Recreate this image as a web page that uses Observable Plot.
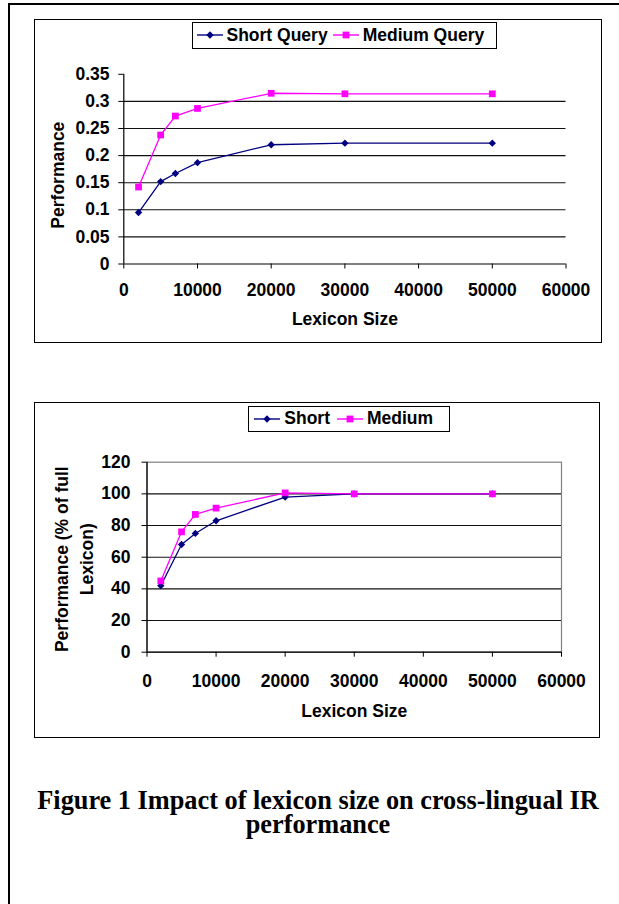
<!DOCTYPE html>
<html><head><meta charset="utf-8">
<script src="https://cdn.jsdelivr.net/npm/d3@7"></script>
<script src="https://cdn.jsdelivr.net/npm/@observablehq/plot@0.6"></script>
<style>
html,body{margin:0;padding:0;background:#fff;}
#page{position:relative;width:619px;height:904px;overflow:hidden;background:#fff;font-family:Arial,"Liberation Sans",sans-serif;color:#000;}
.pageborder{position:absolute;left:8px;top:3px;width:700px;height:1000px;border-left:2px solid #000;border-top:2px solid #000;}
.chart{position:absolute;left:0;}
.box{position:absolute;border:1.5px solid #000;box-sizing:border-box;pointer-events:none;}
.legend{position:absolute;border:1.3px solid #000;background:#fff;display:flex;align-items:center;box-sizing:border-box;font-weight:bold;font-size:17.5px;white-space:nowrap;}
.legend svg{display:block;flex:none;}
.caption{position:absolute;left:9px;width:618px;text-align:center;font-family:"Times New Roman","Liberation Serif",serif;font-weight:bold;font-size:26.3px;line-height:24px;}
</style></head>
<body><div id="page">
<div class="pageborder"></div>
<div id="c1" class="chart" style="top:18.5px"></div>
<div class="box" style="left:33.5px;top:18.5px;width:568px;height:324.5px"></div>
<div id="l1" class="legend" style="left:191.5px;top:22px;width:305px;height:26.5px;padding-left:4px"></div>
<div id="c2" class="chart" style="top:402px"></div>
<div class="box" style="left:33.5px;top:402px;width:566.5px;height:335.5px"></div>
<div id="l2" class="legend" style="left:248.3px;top:405.7px;width:202px;height:26.6px;padding-left:5px"></div>
<div class="caption" style="top:789px">Figure 1 Impact of lexicon size on cross-lingual IR performance</div>
</div>
<script>
// ---- data ----
const lexiconSizes = [2000, 5000, 7000, 10000, 20000, 30000, 50000];
const shortPerf  = [0.095, 0.152, 0.167, 0.187, 0.220, 0.223, 0.223];
const mediumPerf = [0.142, 0.238, 0.273, 0.287, 0.315, 0.314, 0.314];
const shortPct   = [42, 68, 75, 83, 98, 100, 100];
const mediumPct  = [45, 76, 87, 91, 100.6, 100, 100];
const xTicks  = [0, 10000, 20000, 30000, 40000, 50000, 60000];
const yTicks1 = [0, 0.05, 0.1, 0.15, 0.2, 0.25, 0.3, 0.35];
const yTicks2 = [0, 20, 40, 60, 80, 100, 120];
const legend1 = ["Short Query", "Medium Query"];
const legend2 = ["Short", "Medium"];
const xLabel = "Lexicon Size";
const yLabel1 = "Performance";
const yLabel2 = "Performance (% of full\nLexicon)";

const shortColor = "#000080";
const mediumColor = "#FF00FF";
const FONT = "Arial, 'Liberation Sans', sans-serif";

function makeChart(o) {
  const rs = lexiconSizes.map((x, i) => ({x, y: o.s1[i]}));
  const rm = lexiconSizes.map((x, i) => ({x, y: o.s2[i]}));
  const marks = [];
  if (o.frame) marks.push(Plot.frame({stroke: "#808080", strokeWidth: 1.2}));
  marks.push(Plot.ruleY(o.yTicks.filter(v => v > 0 && v < o.yDomain[1]), {stroke: "#111", strokeWidth: 1.1}));
  marks.push(Plot.ruleX([0], {stroke: "#000", strokeWidth: 1.2}));
  marks.push(Plot.ruleY([0], {stroke: "#000", strokeWidth: 1.2}));
  marks.push(Plot.axisY({ticks: o.yTicks, tickFormat: o.yFmt, tickSize: 5, tickPadding: o.yPad, label: null, fontSize: 17.5, fontWeight: "bold"}));
  marks.push(Plot.axisX({ticks: xTicks, tickFormat: d => String(d), tickSize: 5, tickPadding: o.xPad, label: null, fontSize: 17.5, fontWeight: "bold"}));
  marks.push(Plot.line(rs, {x: "x", y: "y", stroke: shortColor, strokeWidth: 1.3}));
  marks.push(Plot.dot(rs, {x: "x", y: "y", symbol: "diamond2", r: 3.3, fill: shortColor, stroke: "none"}));
  marks.push(Plot.line(rm, {x: "x", y: "y", stroke: mediumColor, strokeWidth: 1.3}));
  marks.push(Plot.dot(rm, {x: "x", y: "y", symbol: "square", r: 3.8, fill: mediumColor, stroke: "none"}));
  marks.push(Plot.text([o.yLabel], {text: d => d, frameAnchor: "left", textAnchor: "middle", lineAnchor: "middle", rotate: -90, dx: o.yLabelDx, dy: o.yLabelDy, lineHeight: o.lineHeight || 1, fontSize: 17.5, fontWeight: "bold"}));
  marks.push(Plot.text([xLabel], {text: d => d, frameAnchor: "bottom", textAnchor: "middle", lineAnchor: "middle", dy: o.xLabelDy, fontSize: 17.5, fontWeight: "bold"}));
  return Plot.plot({
    width: 619, height: o.height,
    marginTop: o.mt, marginBottom: o.mb, marginLeft: o.ml, marginRight: o.mr,
    x: {domain: [0, 60000]},
    y: {domain: o.yDomain},
    style: {fontFamily: FONT, fontSize: "17.5px", fontWeight: "bold", background: "transparent", color: "#000", overflow: "visible"},
    marks
  });
}

document.getElementById("c1").append(makeChart({
  s1: shortPerf, s2: mediumPerf, yDomain: [0, 0.35], yTicks: yTicks1,
  yFmt: d => String(+d.toFixed(2)), height: 324,
  mt: 54.8, mb: 79.5, ml: 123.3, mr: 53.5, yPad: 9.3, xPad: 15,
  yLabel: yLabel1, yLabelDx: -65.3, yLabelDy: 6, xLabelDy: 55.3, frame: false
}));
document.getElementById("c2").append(makeChart({
  s1: shortPct, s2: mediumPct, yDomain: [0, 120], yTicks: yTicks2,
  yFmt: d => String(d), height: 335.5,
  mt: 59.7, mb: 85.8, ml: 146.5, mr: 58, yPad: 11.5, xPad: 17,
  yLabel: yLabel2, yLabelDx: -75, yLabelDy: 2, lineHeight: 1.43, xLabelDy: 59.3, frame: true
}));

function legendSample(color, kind) {
  const ns = "http://www.w3.org/2000/svg";
  const svg = document.createElementNS(ns, "svg");
  svg.setAttribute("width", 26); svg.setAttribute("height", 14);
  const line = document.createElementNS(ns, "line");
  line.setAttribute("x1", 0); line.setAttribute("x2", 26); line.setAttribute("y1", 7); line.setAttribute("y2", 7);
  line.setAttribute("stroke", color); line.setAttribute("stroke-width", 1.4);
  svg.append(line);
  const sym = document.createElementNS(ns, "path");
  sym.setAttribute("d", kind === "diamond" ? "M13,3.3L16.7,7L13,10.7L9.3,7Z" : "M9.6,3.6H16.4V10.4H9.6Z");
  sym.setAttribute("fill", color);
  svg.append(sym);
  return svg;
}
function makeLegend(id, labels, gap) {
  const el = document.getElementById(id);
  labels.forEach((t, i) => {
    const s = legendSample(i === 0 ? shortColor : mediumColor, i === 0 ? "diamond" : "square");
    s.style.marginRight = "4px";
    if (i > 0) s.style.marginLeft = gap + "px";
    el.append(s);
    const span = document.createElement("span");
    span.textContent = t;
    el.append(span);
  });
}
makeLegend("l1", legend1, 5);
makeLegend("l2", legend2, 7);
</script>
</body></html>
